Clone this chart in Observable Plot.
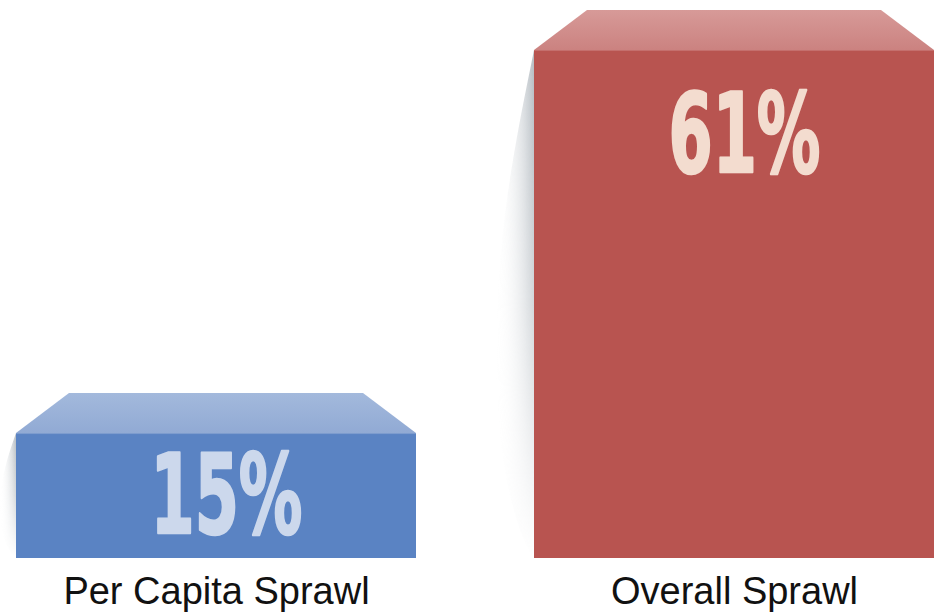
<!DOCTYPE html>
<html>
<head>
<meta charset="utf-8">
<script src="https://cdn.jsdelivr.net/npm/d3@7"></script>
<script src="https://cdn.jsdelivr.net/npm/@observablehq/plot@0.6"></script>
<style>
  html, body { margin: 0; padding: 0; background: #ffffff; }
  #chart svg { display: block; }
</style>
</head>
<body>
<div id="chart"></div>
<script>
// ---- data ----
const categories = ["Per Capita Sprawl", "Overall Sprawl"];
const values = [15, 61];
const valueLabels = ["15%", "61%"];

// ---- styles (kept apart from the data) ----
const frontColors = ["#5a83c3", "#b85450"];
const topColorsLight = ["#a3b9dc", "#d79a98"];
const topColorsDark = ["#91aad4", "#cb8280"];
const inkColors = ["#ccd8ec", "#f3dccf"];
const labelDy = [64, 86];

const data = categories.map((category, i) => ({category, value: values[i], label: valueLabels[i]}));

const DEPTH = 40, INSET = 53;

function addDefs(svg) {
  const defs = d3.select(svg).insert("defs", ":first-child");
  categories.forEach((c, i) => {
    const g = defs.append("linearGradient").attr("id", "top" + i)
      .attr("x1", 0).attr("y1", 0).attr("x2", 0).attr("y2", 1);
    g.append("stop").attr("offset", "0%").attr("stop-color", topColorsLight[i]);
    g.append("stop").attr("offset", "100%").attr("stop-color", topColorsDark[i]);
  });
  const s = defs.append("linearGradient").attr("id", "shade")
    .attr("x1", 0).attr("y1", 0).attr("x2", 1).attr("y2", 0);
  s.append("stop").attr("offset", "0%").attr("stop-color", "#ffffff").attr("stop-opacity", 0);
  s.append("stop").attr("offset", "100%").attr("stop-color", "#9ea7af").attr("stop-opacity", 0.75);
  const v = defs.append("linearGradient").attr("id", "shadeMask")
    .attr("x1", 0).attr("y1", 0).attr("x2", 0).attr("y2", 1);
  v.append("stop").attr("offset", "0%").attr("stop-color", "#fff");
  v.append("stop").attr("offset", "50%").attr("stop-color", "#fff").attr("stop-opacity", 0.6);
  v.append("stop").attr("offset", "100%").attr("stop-color", "#fff").attr("stop-opacity", 0);
  defs.append("mask").attr("id", "fadeMask").attr("maskContentUnits", "objectBoundingBox")
    .append("rect").attr("width", 1).attr("height", 1).attr("fill", "url(#shadeMask)");
}

const chart = Plot.plot({
  width: 938,
  height: 613,
  marginTop: 50,
  marginBottom: 55,
  marginLeft: 16,
  marginRight: 3,
  style: {fontFamily: "'Liberation Sans', Arial, sans-serif", background: "#ffffff"},
  x: {domain: categories, paddingInner: 0.2276, paddingOuter: 0, axis: null},
  y: {domain: [0, d3.max(values)], axis: null},
  color: {domain: categories, range: frontColors},
  marks: [
    Plot.barY(data, {
      x: "category",
      y: "value",
      fill: "category",
      render(index, scales, vals, dims, ctx, next) {
        const g = next(index, scales, vals, dims, ctx);
        const sel = d3.select(g);
        const rects = sel.selectAll("rect").nodes();
        rects.forEach((r, k) => {
          const i = index[k];
          const x = +r.getAttribute("x"), y = +r.getAttribute("y");
          const w = +r.getAttribute("width"), h = +r.getAttribute("height");
          // soft reflective shade on the left
          const sw = Math.min(38, x);
          sel.insert("path", ":first-child")
            .attr("d", `M${x},${y} C${x - sw * 0.4},${y + h * 0.15} ${x - sw},${y + h * 0.35} ${x - sw},${y + h * 0.6} C${x - sw},${y + h * 0.8} ${x - sw * 0.5},${y + h * 0.95} ${x},${y + h} Z`)
            .attr("fill", "url(#shade)")
            .attr("mask", "url(#fadeMask)");
          // top face of the box
          sel.append("polygon")
            .attr("points", [[x, y], [x + INSET, y - DEPTH], [x + w - INSET, y - DEPTH], [x + w, y]].map(p => p.join(",")).join(" "))
            .attr("fill", `url(#top${i})`);
          // faint edge line
          sel.append("line")
            .attr("x1", x).attr("x2", x + w).attr("y1", y + 0.5).attr("y2", y + 0.5)
            .attr("stroke", topColorsDark[i]).attr("stroke-opacity", 0.6);
        });
        return g;
      }
    }),
    ...data.map((d, i) => Plot.text([d], {
      x: "category",
      y: "value",
      text: "label",
      dx: 10,
      dy: labelDy[i],
      lineAnchor: "middle",
      fill: inkColors[i],
      stroke: inkColors[i],
      strokeWidth: 2.5,
      fontSize: 110,
      fontWeight: "bold",
      fontFamily: "'Liberation Sans Narrow', 'DejaVu Sans Condensed', sans-serif",
      render(index, scales, vals, dims, ctx, next) {
        const g = next(index, scales, vals, dims, ctx);
        d3.select(g).selectAll("text")
          .attr("textLength", 152)
          .attr("lengthAdjust", "spacingAndGlyphs");
        return g;
      }
    })),
    Plot.axisX({
      label: null,
      tickSize: 0,
      tickPadding: 19,
      fontSize: 38,
      fill: "#111111",
      fontFamily: "'Liberation Sans', Arial, sans-serif"
    })
  ]
});

addDefs(chart);
document.getElementById("chart").appendChild(chart);
</script>
</body>
</html>
